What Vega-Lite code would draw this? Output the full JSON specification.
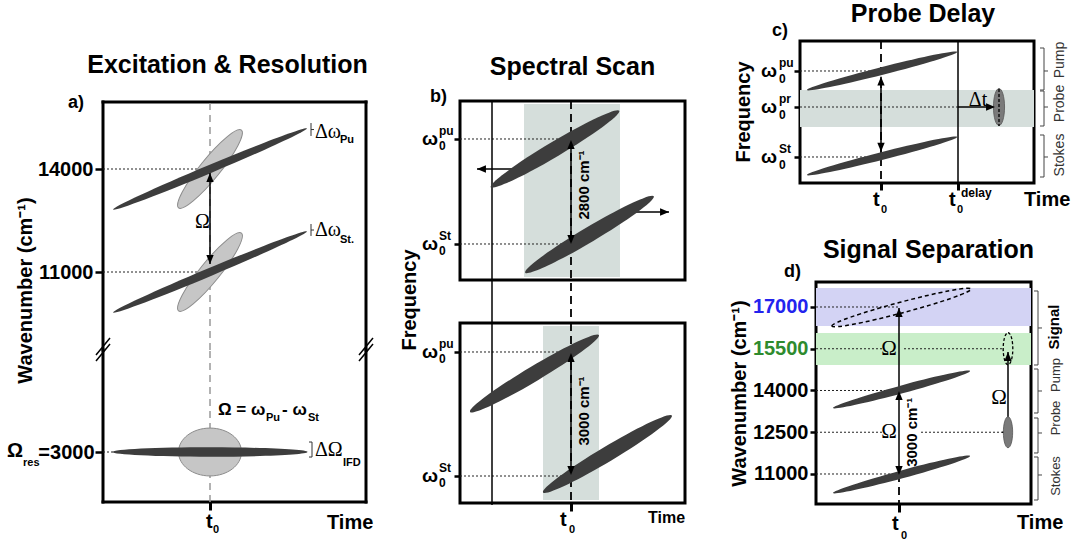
{
"$schema":"https://vega.github.io/schema/vega-lite/v6.json",
"background":"white",
"padding":{"left":7,"top":0,"right":0,"bottom":0},
"autosize":{"type":"pad"},
"spacing":0,
"config":{
 "font":"Liberation Sans",
 "view":{"stroke":null},
 "axis":{"grid":false,"domain":false,"tickColor":"black","labelColor":"black","labelFont":"Liberation Sans","labelFontWeight":"bold","labelFontSize":20,"titleFont":"Liberation Sans","titleFontWeight":"bold","titleFontSize":20,"titleColor":"black"},
 "title":{"fontSize":25,"fontWeight":"bold","anchor":"middle","frame":"group","baseline":"alphabetic","color":"black","font":"Liberation Sans"}
},
"hconcat":[
 {"spacing":0,"bounds":"flush","vconcat":[
  {"width":263,"height":61,"data":{"values":[]},"mark":"point","encoding":{}},
  {"width":263,"height":248,
   "title":{"text":"Excitation & Resolution","offset":16,"dx":-7,"frame":"group"},
   "encoding":{
    "x":{"field":"t","type":"quantitative","scale":{"domain":[-107,156],"nice":false,"zero":false},"axis":null},
    "y":{"field":"w","type":"quantitative","scale":{"domain":[8728,15952],"nice":false,"zero":false},"axis":{"values":[14000,11000],"format":"d","tickSize":8,"tickWidth":2.5,"labelPadding":2,"title":"Wavenumber (cm⁻¹)","titlePadding":2,"titleY":188}}
   },
   "layer":[
    {"data":{"values":[{"t":-107,"w":8728,"t2":-107,"w2":15952},{"t":156,"w":8728,"t2":156,"w2":15952},{"t":-107,"w":15952,"t2":156,"w2":15952}]},
     "mark":{"type":"rule","strokeWidth":3,"color":"black","strokeCap":"square"},"encoding":{"x2":{"field":"t2"},"y2":{"field":"w2"}}},
    {"data":{"values":[{"t":-114,"w":8583,"t2":-100,"w2":9078},{"t":-114,"w":8408,"t2":-100,"w2":8903},{"t":149,"w":8583,"t2":163,"w2":9078},{"t":149,"w":8408,"t2":163,"w2":8903}]},
     "mark":{"type":"rule","strokeWidth":1.5,"color":"black"},"encoding":{"x2":{"field":"t2"},"y2":{"field":"w2"}}},
    {"data":{"values":[{"t":-107,"w":14000,"t2":0,"w2":14000},{"t":-107,"w":11000,"t2":0,"w2":11000}]},
     "mark":{"type":"rule","strokeWidth":1,"color":"#222","strokeDash":[2,2]},"encoding":{"x2":{"field":"t2"},"y2":{"field":"w2"}}},
    {"data":{"values":[{"t":0,"w":8728,"t2":0,"w2":15952}]},
     "mark":{"type":"rule","strokeWidth":1.5,"color":"#999","strokeDash":[7,5]},"encoding":{"x2":{"field":"t2"},"y2":{"field":"w2"}}},
    {"data":{"values":[{"t":0,"w":14000},{"t":0,"w":11000}]},
     "mark":{"type":"point","shape":"M-1,0C-1,-0.11 -0.552,-0.2 0,-0.2C0.552,-0.2 1,-0.11 1,0C1,0.11 0.552,0.2 0,0.2C-0.552,0.2 -1,0.11 -1,0Z","size":10000,"angle":-51,"filled":true,"fill":"#c6c6c6","stroke":"#8c8c8c","strokeWidth":1,"opacity":1}},
    {"data":{"values":[{"t":0,"w":14000},{"t":0,"w":11000}]},
     "mark":{"type":"point","shape":"M-1,0C-1,-0.021 -0.552,-0.038 0,-0.038C0.552,-0.038 1,-0.021 1,0C1,0.021 0.552,0.038 0,0.038C-0.552,0.038 -1,0.021 -1,0Z","size":44100,"angle":-22.7,"filled":true,"fill":"#3d3d3d","strokeWidth":0,"opacity":1}},
    {"data":{"values":[{"t":0,"w":13883,"t2":0,"w2":11233}]},
     "mark":{"type":"rule","strokeWidth":1.5,"color":"black"},"encoding":{"x2":{"field":"t2"},"y2":{"field":"w2"}}},
    {"data":{"values":[{"t":0,"w":13883,"dir":"up"},{"t":0,"w":11233,"dir":"down"}]},
     "mark":{"type":"point","filled":true,"size":110,"color":"black","opacity":1,"strokeWidth":0},
     "encoding":{"shape":{"field":"dir","type":"nominal","scale":{"domain":["up","down","left","right"],"range":["M0,0L-0.7,1.7L0.7,1.7Z","M0,0L-0.7,-1.7L0.7,-1.7Z","M0,0L1.7,-0.7L1.7,0.7Z","M0,0L-1.7,-0.7L-1.7,0.7Z"]},"legend":null}}},
    {"data":{"values":[{"t":101,"w":15340,"t2":101,"w2":14962},{"t":101,"w":15150,"t2":104,"w2":15150},{"t":101,"w":12398,"t2":101,"w2":12049},{"t":101,"w":12223,"t2":104,"w2":12223}]},
     "mark":{"type":"rule","strokeWidth":1,"color":"#333"},"encoding":{"x2":{"field":"t2"},"y2":{"field":"w2"}}},
    {"data":{"values":[{"t":105,"w":15078,"txt":"Δω"},{"t":105,"w":12223,"txt":"Δω"},{"t":-15,"w":12456,"txt":"Ω"}]},
     "mark":{"type":"text","font":"Liberation Serif","fontSize":20,"align":"left","baseline":"middle","color":"black"},"encoding":{"text":{"field":"txt"}}},
    {"data":{"values":[{"t":130,"w":14845,"txt":"Pu"},{"t":130,"w":11932,"txt":"St."}]},
     "mark":{"type":"text","fontSize":11,"fontWeight":"bold","align":"left","baseline":"middle","color":"black"},"encoding":{"text":{"field":"txt"}}},
    {"data":{"values":[{"t":-142,"w":15922,"txt":"a)"}]},
     "mark":{"type":"text","fontSize":18,"fontWeight":"bold","align":"left","baseline":"middle","color":"black"},"encoding":{"text":{"field":"txt"}}}
   ]},
  {"width":263,"height":152,
   "encoding":{
    "x":{"field":"t","type":"quantitative","scale":{"domain":[-107,156],"nice":false,"zero":false},"axis":{"values":[0],"tickSize":8,"tickWidth":3,"labels":false,"title":null}},
    "y":{"field":"w","type":"quantitative","scale":{"domain":[1544,5971],"nice":false,"zero":false},"axis":{"values":[3000],"labelExpr":"'=3000'","tickSize":8,"tickWidth":2.5,"labelPadding":1,"title":null}}
   },
   "layer":[
    {"data":{"values":[{"t":-107,"w":1544,"t2":-107,"w2":5971},{"t":156,"w":1544,"t2":156,"w2":5971},{"t":-107,"w":1544,"t2":156,"w2":1544}]},
     "mark":{"type":"rule","strokeWidth":3,"color":"black","strokeCap":"square"},"encoding":{"x2":{"field":"t2"},"y2":{"field":"w2"}}},
    {"data":{"values":[{"t":-107,"w":3000,"t2":0,"w2":3000}]},
     "mark":{"type":"rule","strokeWidth":1,"color":"#222","strokeDash":[2,2]},"encoding":{"x2":{"field":"t2"},"y2":{"field":"w2"}}},
    {"data":{"values":[{"t":0,"w":1544,"t2":0,"w2":5971}]},
     "mark":{"type":"rule","strokeWidth":1.5,"color":"#999","strokeDash":[7,5]},"encoding":{"x2":{"field":"t2"},"y2":{"field":"w2"}}},
    {"data":{"values":[{"t":0,"w":3000}]},
     "mark":{"type":"point","shape":"M-1,0C-1,-0.42 -0.552,-0.76 0,-0.76C0.552,-0.76 1,-0.42 1,0C1,0.42 0.552,0.76 0,0.76C-0.552,0.76 -1,0.42 -1,0Z","size":3969,"angle":0,"filled":true,"fill":"#c6c6c6","stroke":"#8c8c8c","strokeWidth":1,"opacity":1}},
    {"data":{"values":[{"t":0,"w":3000}]},
     "mark":{"type":"point","shape":"M-1,0C-1,-0.0265 -0.552,-0.048 0,-0.048C0.552,-0.048 1,-0.0265 1,0C1,0.0265 0.552,0.048 0,0.048C-0.552,0.048 -1,0.0265 -1,0Z","size":38025,"angle":0,"filled":true,"fill":"#3d3d3d","strokeWidth":0,"opacity":1}},
    {"data":{"values":[{"t":102,"w":3291,"t2":102,"w2":2854},{"t":99,"w":3291,"t2":102,"w2":3291},{"t":99,"w":2854,"t2":102,"w2":2854}]},
     "mark":{"type":"rule","strokeWidth":1,"color":"#333"},"encoding":{"x2":{"field":"t2"},"y2":{"field":"w2"}}},
    {"data":{"values":[{"t":105,"w":3058,"txt":"ΔΩ"}]},
     "mark":{"type":"text","font":"Liberation Serif","fontSize":20,"align":"left","baseline":"middle","color":"black"},"encoding":{"text":{"field":"txt"}}},
    {"data":{"values":[{"t":8,"w":4223,"txt":"Ω = ω"},{"t":72,"w":4223,"txt":"- ω"}]},
     "mark":{"type":"text","fontSize":17,"fontWeight":"bold","align":"left","baseline":"middle","color":"black"},"encoding":{"text":{"field":"txt"}}},
    {"data":{"values":[{"t":56,"w":3990,"txt":"Pu"},{"t":98,"w":3990,"txt":"St"},{"t":133,"w":2680,"txt":"IFD"},{"t":-187,"w":2680,"txt":"res"},{"t":3,"w":728,"txt":"0"}]},
     "mark":{"type":"text","fontSize":11,"fontWeight":"bold","align":"left","baseline":"middle","color":"black"},"encoding":{"text":{"field":"txt"}}},
    {"data":{"values":[{"t":-203,"w":3015,"txt":"Ω"},{"t":-4,"w":961,"txt":"t"},{"t":117,"w":932,"txt":"Time"}]},
     "mark":{"type":"text","fontSize":20,"fontWeight":"bold","align":"left","baseline":"middle","color":"black"},"encoding":{"text":{"field":"txt"}}}
   ]}
 ]},
 {"width":24,"height":10,"data":{"values":[]},"mark":"point","encoding":{}},
 {"spacing":0,"bounds":"flush","vconcat":[
  {"width":225,"height":60,"data":{"values":[]},"mark":"point","encoding":{}},
  {"width":225,"height":179,
   "view":{"stroke":"black","strokeWidth":3},
   "title":{"text":"Spectral Scan","offset":8.5,"frame":"group"},
   "encoding":{
    "x":{"field":"t","type":"quantitative","scale":{"domain":[-111,114],"nice":false,"zero":false},"axis":null},
    "y":{"field":"w","type":"quantitative","scale":{"domain":[10240,15013.3],"nice":false,"zero":false},"axis":{"values":[14000,11200],"tickSize":6,"tickWidth":2.5,"labels":false,"title":null}}
   },
   "layer":[
    {"data":{"values":[{"t":-47,"t2":49,"w":14933,"w2":10320}]},
     "mark":{"type":"rect","color":"#d5dedb"},"encoding":{"x2":{"field":"t2"},"y2":{"field":"w2"}}},
    {"data":{"values":[{"t":-111,"w":14000,"t2":0,"w2":14000},{"t":-111,"w":11200,"t2":0,"w2":11200}]},
     "mark":{"type":"rule","strokeWidth":1,"color":"#222","strokeDash":[2,2]},"encoding":{"x2":{"field":"t2"},"y2":{"field":"w2"}}},
    {"data":{"values":[{"t":0,"w":15013,"t2":0,"w2":9093}]},
     "mark":{"type":"rule","strokeWidth":1.8,"color":"black","strokeDash":[8,5]},"encoding":{"x2":{"field":"t2"},"y2":{"field":"w2"}}},
    {"data":{"values":[{"t":-79,"w":15013,"t2":-79,"w2":9093},{"t":0,"w":13973,"t2":0,"w2":11200},{"t":-49,"w":13200,"t2":-94,"w2":13200},{"t":56,"w":12053,"t2":98,"w2":12053}]},
     "mark":{"type":"rule","strokeWidth":1.5,"color":"black"},"encoding":{"x2":{"field":"t2"},"y2":{"field":"w2"}}},
    {"data":{"values":[{"t":-16,"w":13733},{"t":18.5,"w":11453}]},
     "mark":{"type":"point","shape":"M-1,0C-1,-0.055 -0.552,-0.1 0,-0.1C0.552,-0.1 1,-0.055 1,0C1,0.055 0.552,0.1 0,0.1C-0.552,0.1 -1,0.055 -1,0Z","size":22350,"angle":-30.7,"filled":true,"fill":"#3d3d3d","strokeWidth":0,"opacity":1}},
    {"data":{"values":[{"t":0,"w":13973,"dir":"up"},{"t":0,"w":11200,"dir":"down"},{"t":-94,"w":13200,"dir":"left"},{"t":98,"w":12053,"dir":"right"}]},
     "mark":{"type":"point","filled":true,"size":110,"color":"black","opacity":1,"strokeWidth":0},
     "encoding":{"shape":{"field":"dir","type":"nominal","scale":{"domain":["up","down","left","right"],"range":["M0,0L-0.7,1.7L0.7,1.7Z","M0,0L-0.7,-1.7L0.7,-1.7Z","M0,0L1.7,-0.7L1.7,0.7Z","M0,0L-1.7,-0.7L-1.7,0.7Z"]},"legend":null}}},
    {"data":{"values":[{"t":0,"w":12773,"txt":"2800 cm⁻¹"}]},
     "mark":{"type":"text","fontSize":15,"fontWeight":"bold","angle":270,"align":"center","baseline":"middle","dy":13,"color":"black"},"encoding":{"text":{"field":"txt"}}},
    {"data":{"values":[{"t":-111,"w":9707,"txt":"Frequency"}]},
     "mark":{"type":"text","fontSize":20,"fontWeight":"bold","angle":270,"align":"center","baseline":"middle","dy":-50,"color":"black"},"encoding":{"text":{"field":"txt"}}},
    {"data":{"values":[{"t":-111,"w":14000,"txt":"ω"},{"t":-111,"w":11200,"txt":"ω"}]},
     "mark":{"type":"text","fontSize":19,"fontWeight":"bold","align":"right","baseline":"middle","dx":-22,"color":"black"},"encoding":{"text":{"field":"txt"}}},
    {"data":{"values":[{"t":-111,"w":14000,"txt":"pu"},{"t":-111,"w":11200,"txt":"St"}]},
     "mark":{"type":"text","fontSize":12,"fontWeight":"bold","align":"left","baseline":"middle","dx":-21,"dy":-8,"color":"black"},"encoding":{"text":{"field":"txt"}}},
    {"data":{"values":[{"t":-111,"w":14000,"txt":"0"},{"t":-111,"w":11200,"txt":"0"}]},
     "mark":{"type":"text","fontSize":12,"fontWeight":"bold","align":"left","baseline":"middle","dx":-21,"dy":7,"color":"black"},"encoding":{"text":{"field":"txt"}}},
    {"data":{"values":[{"t":-141,"w":15107,"txt":"b)"}]},
     "mark":{"type":"text","fontSize":18,"fontWeight":"bold","align":"left","baseline":"middle","color":"black"},"encoding":{"text":{"field":"txt"}}}
   ]},
  {"width":225,"height":43,"data":{"values":[]},"mark":"point","encoding":{}},
  {"width":225,"height":180,
   "view":{"stroke":"black","strokeWidth":3},
   "encoding":{
    "x":{"field":"t","type":"quantitative","scale":{"domain":[-111,114],"nice":false,"zero":false},"axis":{"values":[0],"tickSize":8,"tickWidth":3,"labels":false,"title":null}},
    "y":{"field":"w","type":"quantitative","scale":{"domain":[10346.8,14701.6],"nice":false,"zero":false},"axis":{"values":[14000,11000],"tickSize":6,"tickWidth":2.5,"labels":false,"title":null}}
   },
   "layer":[
    {"data":{"values":[{"t":-28,"t2":28,"w":14629,"w2":10419}]},
     "mark":{"type":"rect","color":"#d5dedb"},"encoding":{"x2":{"field":"t2"},"y2":{"field":"w2"}}},
    {"data":{"values":[{"t":-111,"w":14000,"t2":0,"w2":14000},{"t":-111,"w":11000,"t2":0,"w2":11000}]},
     "mark":{"type":"rule","strokeWidth":1,"color":"#222","strokeDash":[2,2]},"encoding":{"x2":{"field":"t2"},"y2":{"field":"w2"}}},
    {"data":{"values":[{"t":0,"w":14701.6,"t2":0,"w2":10346.8}]},
     "mark":{"type":"rule","strokeWidth":1.8,"color":"black","strokeDash":[8,5]},"encoding":{"x2":{"field":"t2"},"y2":{"field":"w2"}}},
    {"data":{"values":[{"t":-79,"w":14701.6,"t2":-79,"w2":10298},{"t":0,"w":13976,"t2":0,"w2":11024}]},
     "mark":{"type":"rule","strokeWidth":1.5,"color":"black"},"encoding":{"x2":{"field":"t2"},"y2":{"field":"w2"}}},
    {"data":{"values":[{"t":-36.5,"w":13480},{"t":36.5,"w":11532}]},
     "mark":{"type":"point","shape":"M-1,0C-1,-0.055 -0.552,-0.1 0,-0.1C0.552,-0.1 1,-0.055 1,0C1,0.055 0.552,0.1 0,0.1C-0.552,0.1 -1,0.055 -1,0Z","size":22500,"angle":-30.8,"filled":true,"fill":"#3d3d3d","strokeWidth":0,"opacity":1}},
    {"data":{"values":[{"t":0,"w":13976,"dir":"up"},{"t":0,"w":11024,"dir":"down"}]},
     "mark":{"type":"point","filled":true,"size":110,"color":"black","opacity":1,"strokeWidth":0},
     "encoding":{"shape":{"field":"dir","type":"nominal","scale":{"domain":["up","down","left","right"],"range":["M0,0L-0.7,1.7L0.7,1.7Z","M0,0L-0.7,-1.7L0.7,-1.7Z","M0,0L1.7,-0.7L1.7,0.7Z","M0,0L-1.7,-0.7L-1.7,0.7Z"]},"legend":null}}},
    {"data":{"values":[{"t":0,"w":12573,"txt":"3000 cm⁻¹"}]},
     "mark":{"type":"text","fontSize":15,"fontWeight":"bold","angle":270,"align":"center","baseline":"middle","dy":13,"color":"black"},"encoding":{"text":{"field":"txt"}}},
    {"data":{"values":[{"t":-111,"w":14000,"txt":"ω"},{"t":-111,"w":11000,"txt":"ω"}]},
     "mark":{"type":"text","fontSize":19,"fontWeight":"bold","align":"right","baseline":"middle","dx":-22,"color":"black"},"encoding":{"text":{"field":"txt"}}},
    {"data":{"values":[{"t":-111,"w":14000,"txt":"pu"},{"t":-111,"w":11000,"txt":"St"}]},
     "mark":{"type":"text","fontSize":12,"fontWeight":"bold","align":"left","baseline":"middle","dx":-21,"dy":-8,"color":"black"},"encoding":{"text":{"field":"txt"}}},
    {"data":{"values":[{"t":-111,"w":14000,"txt":"0"},{"t":-111,"w":11000,"txt":"0"}]},
     "mark":{"type":"text","fontSize":12,"fontWeight":"bold","align":"left","baseline":"middle","dx":-21,"dy":7,"color":"black"},"encoding":{"text":{"field":"txt"}}},
    {"data":{"values":[{"t":-11,"w":9935,"txt":"t"}]},
     "mark":{"type":"text","fontSize":20,"fontWeight":"bold","align":"left","baseline":"middle","color":"black"},"encoding":{"text":{"field":"txt"}}},
    {"data":{"values":[{"t":77,"w":9984,"txt":"Time"}]},
     "mark":{"type":"text","fontSize":16,"fontWeight":"bold","align":"left","baseline":"middle","color":"black"},"encoding":{"text":{"field":"txt"}}},
    {"data":{"values":[{"t":-2,"w":9693,"txt":"0"}]},
     "mark":{"type":"text","fontSize":11,"fontWeight":"bold","align":"left","baseline":"middle","color":"black"},"encoding":{"text":{"field":"txt"}}}
   ]}
 ]},
 {"width":40,"height":10,"data":{"values":[]},"mark":"point","encoding":{}},
 {"spacing":0,"bounds":"flush","vconcat":[
  {"width":234,"height":142,
   "view":{"stroke":"black","strokeWidth":3},
   "title":{"text":"Probe Delay","offset":-5,"dx":6,"frame":"group"},
   "encoding":{
    "x":{"field":"t","type":"quantitative","scale":{"domain":[-81,153],"nice":false,"zero":false},"axis":{"values":[0,77],"tickSize":7,"tickWidth":3,"labels":false,"title":null}},
    "y":{"field":"w","type":"quantitative","scale":{"domain":[10093,15046.5],"nice":false,"zero":false},"axis":{"values":[14000,12744,11000],"tickSize":6,"tickWidth":2.5,"labels":false,"title":null}}
   },
   "layer":[
    {"data":{"values":[{"t":-81,"t2":153,"w":13337,"w2":12046.5}]},
     "mark":{"type":"rect","color":"#d5dedb"},"encoding":{"x2":{"field":"t2"},"y2":{"field":"w2"}}},
    {"data":{"values":[{"t":-81,"w":14000,"t2":0,"w2":14000},{"t":-81,"w":11000,"t2":0,"w2":11000},{"t":-81,"w":12744,"t2":77,"w2":12744}]},
     "mark":{"type":"rule","strokeWidth":1,"color":"#222","strokeDash":[2,2]},"encoding":{"x2":{"field":"t2"},"y2":{"field":"w2"}}},
    {"data":{"values":[{"t":0,"w":15046.5,"t2":0,"w2":10093}]},
     "mark":{"type":"rule","strokeWidth":1.8,"color":"black","strokeDash":[8,5]},"encoding":{"x2":{"field":"t2"},"y2":{"field":"w2"}}},
    {"data":{"values":[{"t":77,"w":15046.5,"t2":77,"w2":10093},{"t":0,"w":13801,"t2":0,"w2":11185},{"t":77,"w":12744,"t2":114,"w2":12744}]},
     "mark":{"type":"rule","strokeWidth":1.5,"color":"black"},"encoding":{"x2":{"field":"t2"},"y2":{"field":"w2"}}},
    {"data":{"values":[{"t":1,"w":14000},{"t":1,"w":11035}]},
     "mark":{"type":"point","shape":"M-1,0C-1,-0.0276 -0.552,-0.05 0,-0.05C0.552,-0.05 1,-0.0276 1,0C1,0.0276 0.552,0.05 0,0.05C-0.552,0.05 -1,0.0276 -1,0Z","size":24025,"angle":-14.2,"filled":true,"fill":"#3d3d3d","strokeWidth":0,"opacity":1}},
    {"data":{"values":[{"t":118,"w":12744}]},
     "mark":{"type":"point","shape":"M-1,0C-1,-0.166 -0.552,-0.3 0,-0.3C0.552,-0.3 1,-0.166 1,0C1,0.166 0.552,0.3 0,0.3C-0.552,0.3 -1,0.166 -1,0Z","size":1369,"angle":90,"filled":true,"fill":"#7a7a7a","stroke":"#555","strokeWidth":0.8,"opacity":1}},
    {"data":{"values":[{"t":118,"w":13372,"t2":118,"w2":12081}]},
     "mark":{"type":"rule","strokeWidth":1.3,"color":"black","strokeDash":[3,2]},"encoding":{"x2":{"field":"t2"},"y2":{"field":"w2"}}},
    {"data":{"values":[{"t":0,"w":13801,"dir":"up"},{"t":0,"w":11185,"dir":"down"},{"t":114,"w":12744,"dir":"right"}]},
     "mark":{"type":"point","filled":true,"size":110,"color":"black","opacity":1,"strokeWidth":0},
     "encoding":{"shape":{"field":"dir","type":"nominal","scale":{"domain":["up","down","left","right"],"range":["M0,0L-0.7,1.7L0.7,1.7Z","M0,0L-0.7,-1.7L0.7,-1.7Z","M0,0L1.7,-0.7L1.7,0.7Z","M0,0L-1.7,-0.7L-1.7,0.7Z"]},"legend":null}}},
    {"data":{"values":[
      {"t":163,"w":14802,"t2":163,"w2":13337},{"t":159,"w":14802,"t2":163,"w2":14802},{"t":159,"w":13337,"t2":163,"w2":13337},{"t":163,"w":14000,"t2":167,"w2":14000},
      {"t":163,"w":13302,"t2":163,"w2":12081},{"t":159,"w":13302,"t2":163,"w2":13302},{"t":159,"w":12081,"t2":163,"w2":12081},{"t":163,"w":12744,"t2":167,"w2":12744},
      {"t":163,"w":11767,"t2":163,"w2":10302},{"t":159,"w":11767,"t2":163,"w2":11767},{"t":159,"w":10302,"t2":163,"w2":10302},{"t":163,"w":11000,"t2":167,"w2":11000}]},
     "mark":{"type":"rule","strokeWidth":1,"color":"#444"},"encoding":{"x2":{"field":"t2"},"y2":{"field":"w2"}}},
    {"data":{"values":[{"t":97,"w":12988,"txt":"Δt"}]},
     "mark":{"type":"text","font":"Liberation Serif","fontSize":20,"align":"center","baseline":"middle","color":"black"},"encoding":{"text":{"field":"txt"}}},
    {"data":{"values":[{"t":163,"w":14384,"txt":"Pump"},{"t":163,"w":12866,"txt":"Probe"},{"t":163,"w":11070,"txt":"Stokes"}]},
     "mark":{"type":"text","fontSize":14,"angle":270,"align":"center","baseline":"middle","dy":16,"color":"#333"},"encoding":{"text":{"field":"txt"}}},
    {"data":{"values":[{"t":-81,"w":12570,"txt":"Frequency"}]},
     "mark":{"type":"text","fontSize":20,"fontWeight":"bold","angle":270,"align":"center","baseline":"middle","dy":-56,"color":"black"},"encoding":{"text":{"field":"txt"}}},
    {"data":{"values":[{"t":-81,"w":14000,"txt":"ω"},{"t":-81,"w":12744,"txt":"ω"},{"t":-81,"w":11000,"txt":"ω"}]},
     "mark":{"type":"text","fontSize":19,"fontWeight":"bold","align":"right","baseline":"middle","dx":-23,"color":"black"},"encoding":{"text":{"field":"txt"}}},
    {"data":{"values":[{"t":-81,"w":14000,"txt":"pu"},{"t":-81,"w":12744,"txt":"pr"},{"t":-81,"w":11000,"txt":"St"}]},
     "mark":{"type":"text","fontSize":12,"fontWeight":"bold","align":"left","baseline":"middle","dx":-21,"dy":-8,"color":"black"},"encoding":{"text":{"field":"txt"}}},
    {"data":{"values":[{"t":-81,"w":14000,"txt":"0"},{"t":-81,"w":12744,"txt":"0"},{"t":-81,"w":11000,"txt":"0"}]},
     "mark":{"type":"text","fontSize":12,"fontWeight":"bold","align":"left","baseline":"middle","dx":-21,"dy":8,"color":"black"},"encoding":{"text":{"field":"txt"}}},
    {"data":{"values":[{"t":-8,"w":9500,"txt":"t"},{"t":68,"w":9500,"txt":"t"},{"t":143,"w":9500,"txt":"Time"}]},
     "mark":{"type":"text","fontSize":20,"fontWeight":"bold","align":"left","baseline":"middle","color":"black"},"encoding":{"text":{"field":"txt"}}},
    {"data":{"values":[{"t":0,"w":9151,"txt":"0"},{"t":76,"w":9151,"txt":"0"}]},
     "mark":{"type":"text","fontSize":11,"fontWeight":"bold","align":"left","baseline":"middle","color":"black"},"encoding":{"text":{"field":"txt"}}},
    {"data":{"values":[{"t":80,"w":9744,"txt":"delay"}]},
     "mark":{"type":"text","fontSize":12,"fontWeight":"bold","align":"left","baseline":"middle","color":"black"},"encoding":{"text":{"field":"txt"}}},
    {"data":{"values":[{"t":-109,"w":15395,"txt":"c)"}]},
     "mark":{"type":"text","fontSize":18,"fontWeight":"bold","align":"left","baseline":"middle","color":"black"},"encoding":{"text":{"field":"txt"}}}
   ]},
  {"width":234,"height":99,"data":{"values":[]},"mark":"point","encoding":{}},
  {"spacing":0,"bounds":"flush","hconcat":[
   {"width":16,"height":222,"data":{"values":[]},"mark":"point","encoding":{}},
   {"width":215,"height":222,
    "view":{"stroke":"black","strokeWidth":3},
    "title":{"text":"Signal Separation","offset":-0.5,"dx":5,"frame":"group"},
    "encoding":{
     "x":{"field":"t","type":"quantitative","scale":{"domain":[-83,132],"nice":false,"zero":false},"axis":{"values":[0],"tickSize":8,"tickWidth":3,"labels":false,"title":null}},
     "y":{"field":"w","type":"quantitative","scale":{"domain":[9922,17898],"nice":false,"zero":false},"axis":{"values":[17000,15500,14000,12500,11000],"format":"d","tickSize":6,"tickWidth":2.5,"labelPadding":2,"title":"Wavenumber (cm⁻¹)","titlePadding":3,"labelColor":{"condition":[{"test":"datum.value === 17000","value":"#2323ee"},{"test":"datum.value === 15500","value":"#2e8b2e"}],"value":"black"}}}
    },
    "layer":[
     {"data":{"values":[{"t":-83,"t2":132,"w":17682,"w2":16317,"signal":"pump-derived"},{"t":-83,"t2":132,"w":16066,"w2":14916,"signal":"probe-derived"}]},
      "mark":{"type":"rect","opacity":1},"encoding":{"x2":{"field":"t2"},"y2":{"field":"w2"},"color":{"field":"signal","type":"nominal","scale":{"domain":["pump-derived","probe-derived"],"range":["#d3d3f4","#c9eec9"]},"legend":null}}},
     {"data":{"values":[{"t":-83,"w":17000,"t2":0,"w2":17000},{"t":-83,"w":15500,"t2":-17,"w2":15500},{"t":5,"w":15500,"t2":104,"w2":15500},{"t":-83,"w":14000,"t2":0,"w2":14000},{"t":-83,"w":12500,"t2":-17,"w2":12500},{"t":22,"w":12500,"t2":103,"w2":12500},{"t":-83,"w":11000,"t2":0,"w2":11000}]},
      "mark":{"type":"rule","strokeWidth":1,"color":"#222","strokeDash":[2,2]},"encoding":{"x2":{"field":"t2"},"y2":{"field":"w2"}}},
     {"data":{"values":[{"t":0,"w":11000,"t2":0,"w2":9922}]},
      "mark":{"type":"rule","strokeWidth":1.8,"color":"black","strokeDash":[8,5]},"encoding":{"x2":{"field":"t2"},"y2":{"field":"w2"}}},
     {"data":{"values":[{"t":0,"w":10964,"t2":0,"w2":16964},{"t":109,"w":12500,"t2":109,"w2":15383},{"t":103,"w":12500,"t2":113,"w2":12500}]},
      "mark":{"type":"rule","strokeWidth":1.5,"color":"black"},"encoding":{"x2":{"field":"t2"},"y2":{"field":"w2"}}},
     {"data":{"values":[{"t":2.5,"w":16982}]},
      "mark":{"type":"point","shape":"M-1,0C-1,-0.0414 -0.552,-0.075 0,-0.075C0.552,-0.075 1,-0.0414 1,0C1,0.0414 0.552,0.075 0,0.075C-0.552,0.075 -1,0.0414 -1,0Z","size":20736,"angle":-14.9,"filled":false,"stroke":"black","strokeWidth":1.5,"strokeDash":[4,3],"opacity":1}},
     {"data":{"values":[{"t":2.5,"w":14036},{"t":2.5,"w":10982}]},
      "mark":{"type":"point","shape":"M-1,0C-1,-0.031 -0.552,-0.056 0,-0.056C0.552,-0.056 1,-0.031 1,0C1,0.031 0.552,0.056 0,0.056C-0.552,0.056 -1,0.031 -1,0Z","size":20164,"angle":-15.1,"filled":true,"fill":"#3d3d3d","strokeWidth":0,"opacity":1}},
     {"data":{"values":[{"t":109,"w":12500}]},
      "mark":{"type":"point","shape":"M-1,0C-1,-0.166 -0.552,-0.3 0,-0.3C0.552,-0.3 1,-0.166 1,0C1,0.166 0.552,0.3 0,0.3C-0.552,0.3 -1,0.166 -1,0Z","size":961,"angle":90,"filled":true,"fill":"#7a7a7a","stroke":"#555","strokeWidth":0.8,"opacity":1}},
     {"data":{"values":[{"t":109,"w":15500}]},
      "mark":{"type":"point","shape":"M-1,0C-1,-0.166 -0.552,-0.3 0,-0.3C0.552,-0.3 1,-0.166 1,0C1,0.166 0.552,0.3 0,0.3C-0.552,0.3 -1,0.166 -1,0Z","size":1024,"angle":90,"filled":false,"stroke":"black","strokeWidth":1.3,"strokeDash":[3,2],"opacity":1}},
     {"data":{"values":[{"t":0,"w":16964,"dir":"up"},{"t":0,"w":13982,"dir":"up"},{"t":0,"w":10964,"dir":"down"},{"t":109,"w":15383,"dir":"up"}]},
      "mark":{"type":"point","filled":true,"size":110,"color":"black","opacity":1,"strokeWidth":0},
      "encoding":{"shape":{"field":"dir","type":"nominal","scale":{"domain":["up","down","left","right"],"range":["M0,0L-0.7,1.7L0.7,1.7Z","M0,0L-0.7,-1.7L0.7,-1.7Z","M0,0L1.7,-0.7L1.7,0.7Z","M0,0L-1.7,-0.7L-1.7,0.7Z"]},"legend":null}}},
     {"data":{"values":[{"t":-10,"w":15500,"txt":"Ω"},{"t":-10,"w":12500,"txt":"Ω"},{"t":100,"w":13731,"txt":"Ω"}]},
      "mark":{"type":"text","font":"Liberation Serif","fontSize":21,"align":"center","baseline":"middle","color":"black"},"encoding":{"text":{"field":"txt"}}},
     {"data":{"values":[{"t":0,"w":12500,"txt":"3000 cm⁻¹"}]},
      "mark":{"type":"text","fontSize":15,"fontWeight":"bold","angle":270,"align":"center","baseline":"middle","dy":13,"color":"black"},"encoding":{"text":{"field":"txt"}}},
     {"data":{"values":[
       {"t":139,"w":17575,"t2":139,"w2":14916},{"t":135,"w":17575,"t2":139,"w2":17575},{"t":135,"w":14916,"t2":139,"w2":14916},{"t":139,"w":16246,"t2":143,"w2":16246},
       {"t":139,"w":14772,"t2":139,"w2":13192},{"t":135,"w":14772,"t2":139,"w2":14772},{"t":135,"w":13192,"t2":139,"w2":13192},{"t":139,"w":13982,"t2":143,"w2":13982},
       {"t":139,"w":13012,"t2":139,"w2":11755},{"t":135,"w":13012,"t2":139,"w2":13012},{"t":135,"w":11755,"t2":139,"w2":11755},{"t":139,"w":12473,"t2":143,"w2":12473},
       {"t":139,"w":11611,"t2":139,"w2":10066},{"t":135,"w":11611,"t2":139,"w2":11611},{"t":135,"w":10066,"t2":139,"w2":10066},{"t":139,"w":10964,"t2":143,"w2":10964}]},
      "mark":{"type":"rule","strokeWidth":1,"color":"#444"},"encoding":{"x2":{"field":"t2"},"y2":{"field":"w2"}}},
     {"data":{"values":[{"t":139,"w":16281,"txt":"Signal"}]},
      "mark":{"type":"text","fontSize":15,"fontWeight":"bold","angle":270,"align":"center","baseline":"middle","dy":16,"color":"black"},"encoding":{"text":{"field":"txt"}}},
     {"data":{"values":[{"t":139,"w":14557,"txt":"Pump"},{"t":139,"w":13012,"txt":"Probe"},{"t":139,"w":10928,"txt":"Stokes"}]},
      "mark":{"type":"text","fontSize":13,"angle":270,"align":"center","baseline":"middle","dy":18,"color":"#333"},"encoding":{"text":{"field":"txt"}}},
     {"data":{"values":[{"t":-7,"w":9204,"txt":"t"},{"t":118,"w":9240,"txt":"Time"}]},
      "mark":{"type":"text","fontSize":20,"fontWeight":"bold","align":"left","baseline":"middle","color":"black"},"encoding":{"text":{"field":"txt"}}},
     {"data":{"values":[{"t":2,"w":8773,"txt":"0"}]},
      "mark":{"type":"text","fontSize":11,"fontWeight":"bold","align":"left","baseline":"middle","color":"black"},"encoding":{"text":{"field":"txt"}}},
     {"data":{"values":[{"t":-115,"w":18275,"txt":"d)"}]},
      "mark":{"type":"text","fontSize":18,"fontWeight":"bold","align":"left","baseline":"middle","color":"black"},"encoding":{"text":{"field":"txt"}}}
    ]}
  ]}
 ]}
]
}
